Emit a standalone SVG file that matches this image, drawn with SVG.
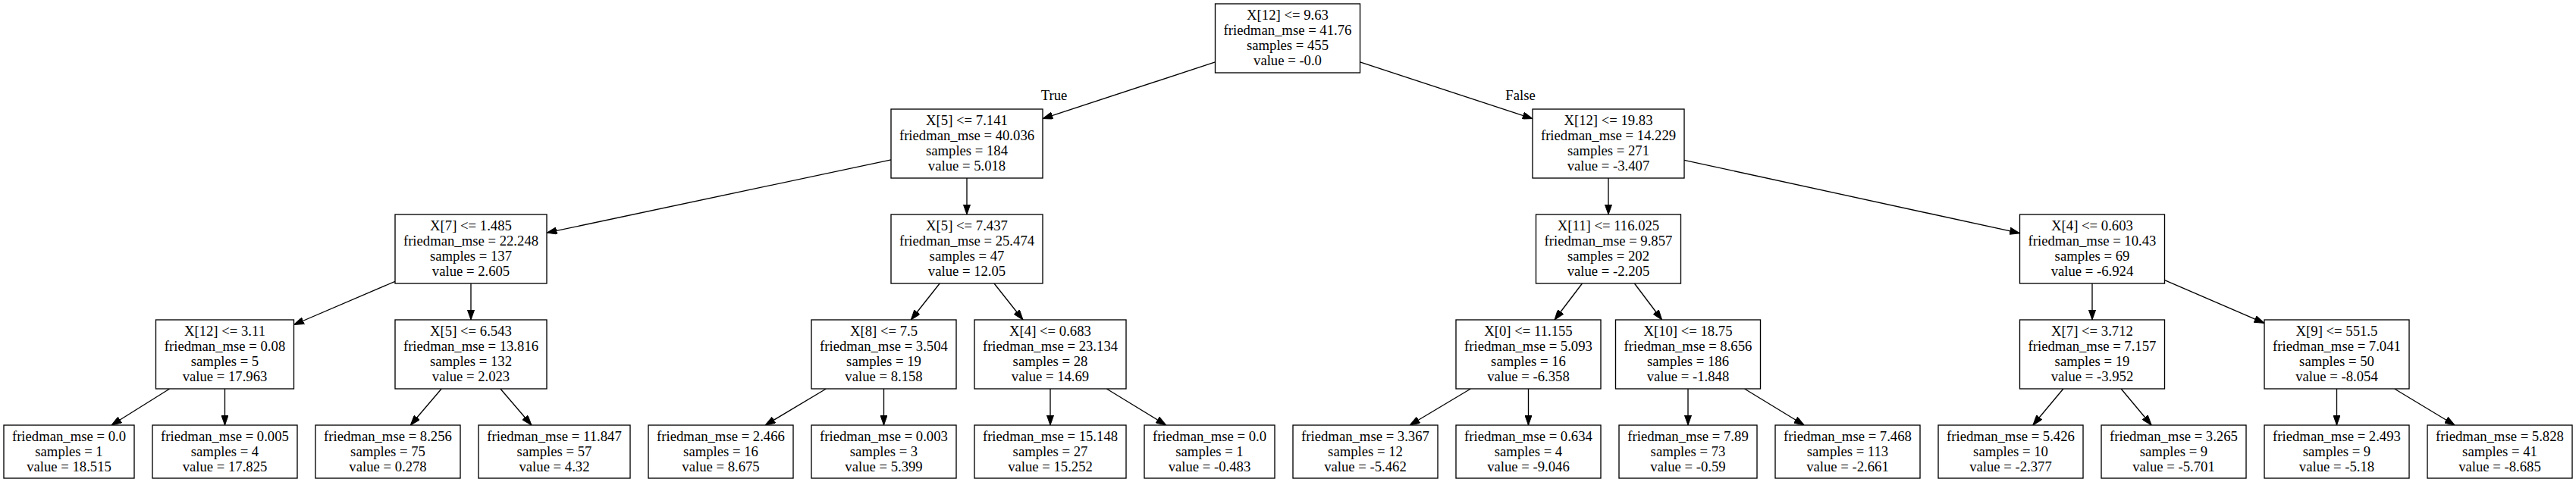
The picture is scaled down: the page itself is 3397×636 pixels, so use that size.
<svg xmlns="http://www.w3.org/2000/svg" width="3397" height="636" viewBox="0 0 3397 636">
<style>
.box{fill:#ffffff;stroke:#000000;stroke-width:1.34}
.t{font-family:"Liberation Serif","Times New Roman",serif;font-size:18.7px;fill:#000000;text-anchor:middle}
.e{stroke:#000000;stroke-width:1.34;fill:none;marker-end:url(#arr)}
</style>
<defs>
<marker id="arr" markerUnits="userSpaceOnUse" viewBox="0 0 13.4 9.4" refX="13.4" refY="4.7" markerWidth="13.4" markerHeight="9.4" orient="auto">
<path d="M0,0 L13.4,4.7 L0,9.4 z" fill="#000000" stroke="#000000" stroke-width="1"/>
</marker>
</defs>
<rect x="0" y="0" width="3397" height="636" fill="#ffffff"/>
<g id="connectors">
<line class="e" x1="1602.5" y1="81.9" x2="1375" y2="156.6"/>
<line class="e" x1="1793.5" y1="81.9" x2="2021" y2="156.6"/>
<line class="e" x1="1175" y1="210.8" x2="721" y2="307.2"/>
<line class="e" x1="1275" y1="235" x2="1275" y2="283"/>
<line class="e" x1="2121" y1="235" x2="2121" y2="283"/>
<line class="e" x1="2221" y1="211.3" x2="2663.5" y2="307.7"/>
<line class="e" x1="521" y1="371.3" x2="387.5" y2="428.5"/>
<line class="e" x1="621" y1="374" x2="621" y2="422"/>
<line class="e" x1="1239.2" y1="374" x2="1201.3" y2="422"/>
<line class="e" x1="1311" y1="374" x2="1349" y2="422"/>
<line class="e" x1="2086.5" y1="374" x2="2050" y2="422"/>
<line class="e" x1="2155.4" y1="374" x2="2191.6" y2="422"/>
<line class="e" x1="2759" y1="374" x2="2759" y2="422"/>
<line class="e" x1="2854.5" y1="369.7" x2="2986" y2="426.3"/>
<line class="e" x1="223.7" y1="513" x2="147" y2="561"/>
<line class="e" x1="296.5" y1="513" x2="296.5" y2="561"/>
<line class="e" x1="582.2" y1="513" x2="541.3" y2="561"/>
<line class="e" x1="659.9" y1="513" x2="701" y2="561"/>
<line class="e" x1="1089.4" y1="513" x2="1009.1" y2="561"/>
<line class="e" x1="1165.5" y1="513" x2="1165.5" y2="561"/>
<line class="e" x1="1385" y1="513" x2="1385" y2="561"/>
<line class="e" x1="1459.3" y1="513" x2="1537.8" y2="561"/>
<line class="e" x1="1939.4" y1="513" x2="1859.1" y2="561"/>
<line class="e" x1="2015.5" y1="513" x2="2015.5" y2="561"/>
<line class="e" x1="2226" y1="513" x2="2226" y2="561"/>
<line class="e" x1="2300.5" y1="513" x2="2379.2" y2="561"/>
<line class="e" x1="2720.9" y1="513" x2="2680.8" y2="561"/>
<line class="e" x1="2797.1" y1="513" x2="2837.2" y2="561"/>
<line class="e" x1="3081.5" y1="513" x2="3081.5" y2="561"/>
<line class="e" x1="3157.6" y1="513" x2="3237.1" y2="561"/>
<text class="t" x="1390" y="132">True</text>
<text class="t" x="2005" y="132">False</text>
</g>
<g id="n0"><rect class="box" x="1602.5" y="5" width="191" height="91"/><text class="t"><tspan x="1698" y="26">X[12] &lt;= 9.63</tspan><tspan x="1698" y="46">friedman_mse = 41.76</tspan><tspan x="1698" y="66">samples = 455</tspan><tspan x="1698" y="86">value = -0.0</tspan></text></g>
<g id="n1"><rect class="box" x="1175" y="144" width="200" height="91"/><text class="t"><tspan x="1275" y="165">X[5] &lt;= 7.141</tspan><tspan x="1275" y="185">friedman_mse = 40.036</tspan><tspan x="1275" y="205">samples = 184</tspan><tspan x="1275" y="225">value = 5.018</tspan></text></g>
<g id="n2"><rect class="box" x="2021" y="144" width="200" height="91"/><text class="t"><tspan x="2121" y="165">X[12] &lt;= 19.83</tspan><tspan x="2121" y="185">friedman_mse = 14.229</tspan><tspan x="2121" y="205">samples = 271</tspan><tspan x="2121" y="225">value = -3.407</tspan></text></g>
<g id="n3"><rect class="box" x="521" y="283" width="200" height="91"/><text class="t"><tspan x="621" y="304">X[7] &lt;= 1.485</tspan><tspan x="621" y="324">friedman_mse = 22.248</tspan><tspan x="621" y="344">samples = 137</tspan><tspan x="621" y="364">value = 2.605</tspan></text></g>
<g id="n4"><rect class="box" x="1175" y="283" width="200" height="91"/><text class="t"><tspan x="1275" y="304">X[5] &lt;= 7.437</tspan><tspan x="1275" y="324">friedman_mse = 25.474</tspan><tspan x="1275" y="344">samples = 47</tspan><tspan x="1275" y="364">value = 12.05</tspan></text></g>
<g id="n5"><rect class="box" x="2025.5" y="283" width="191" height="91"/><text class="t"><tspan x="2121" y="304">X[11] &lt;= 116.025</tspan><tspan x="2121" y="324">friedman_mse = 9.857</tspan><tspan x="2121" y="344">samples = 202</tspan><tspan x="2121" y="364">value = -2.205</tspan></text></g>
<g id="n6"><rect class="box" x="2663.5" y="283" width="191" height="91"/><text class="t"><tspan x="2759" y="304">X[4] &lt;= 0.603</tspan><tspan x="2759" y="324">friedman_mse = 10.43</tspan><tspan x="2759" y="344">samples = 69</tspan><tspan x="2759" y="364">value = -6.924</tspan></text></g>
<g id="n7"><rect class="box" x="205.5" y="422" width="182" height="91"/><text class="t"><tspan x="296.5" y="443">X[12] &lt;= 3.11</tspan><tspan x="296.5" y="463">friedman_mse = 0.08</tspan><tspan x="296.5" y="483">samples = 5</tspan><tspan x="296.5" y="503">value = 17.963</tspan></text></g>
<g id="n8"><rect class="box" x="521" y="422" width="200" height="91"/><text class="t"><tspan x="621" y="443">X[5] &lt;= 6.543</tspan><tspan x="621" y="463">friedman_mse = 13.816</tspan><tspan x="621" y="483">samples = 132</tspan><tspan x="621" y="503">value = 2.023</tspan></text></g>
<g id="n9"><rect class="box" x="1070" y="422" width="191" height="91"/><text class="t"><tspan x="1165.5" y="443">X[8] &lt;= 7.5</tspan><tspan x="1165.5" y="463">friedman_mse = 3.504</tspan><tspan x="1165.5" y="483">samples = 19</tspan><tspan x="1165.5" y="503">value = 8.158</tspan></text></g>
<g id="n10"><rect class="box" x="1285" y="422" width="200" height="91"/><text class="t"><tspan x="1385" y="443">X[4] &lt;= 0.683</tspan><tspan x="1385" y="463">friedman_mse = 23.134</tspan><tspan x="1385" y="483">samples = 28</tspan><tspan x="1385" y="503">value = 14.69</tspan></text></g>
<g id="n11"><rect class="box" x="1920" y="422" width="191" height="91"/><text class="t"><tspan x="2015.5" y="443">X[0] &lt;= 11.155</tspan><tspan x="2015.5" y="463">friedman_mse = 5.093</tspan><tspan x="2015.5" y="483">samples = 16</tspan><tspan x="2015.5" y="503">value = -6.358</tspan></text></g>
<g id="n12"><rect class="box" x="2130.5" y="422" width="191" height="91"/><text class="t"><tspan x="2226" y="443">X[10] &lt;= 18.75</tspan><tspan x="2226" y="463">friedman_mse = 8.656</tspan><tspan x="2226" y="483">samples = 186</tspan><tspan x="2226" y="503">value = -1.848</tspan></text></g>
<g id="n13"><rect class="box" x="2663.5" y="422" width="191" height="91"/><text class="t"><tspan x="2759" y="443">X[7] &lt;= 3.712</tspan><tspan x="2759" y="463">friedman_mse = 7.157</tspan><tspan x="2759" y="483">samples = 19</tspan><tspan x="2759" y="503">value = -3.952</tspan></text></g>
<g id="n14"><rect class="box" x="2986" y="422" width="191" height="91"/><text class="t"><tspan x="3081.5" y="443">X[9] &lt;= 551.5</tspan><tspan x="3081.5" y="463">friedman_mse = 7.041</tspan><tspan x="3081.5" y="483">samples = 50</tspan><tspan x="3081.5" y="503">value = -8.054</tspan></text></g>
<g id="l1"><rect class="box" x="5" y="561" width="172" height="70"/><text class="t"><tspan x="91" y="582">friedman_mse = 0.0</tspan><tspan x="91" y="602">samples = 1</tspan><tspan x="91" y="622">value = 18.515</tspan></text></g>
<g id="l2"><rect class="box" x="201" y="561" width="191" height="70"/><text class="t"><tspan x="296.5" y="582">friedman_mse = 0.005</tspan><tspan x="296.5" y="602">samples = 4</tspan><tspan x="296.5" y="622">value = 17.825</tspan></text></g>
<g id="l3"><rect class="box" x="416" y="561" width="191" height="70"/><text class="t"><tspan x="511.5" y="582">friedman_mse = 8.256</tspan><tspan x="511.5" y="602">samples = 75</tspan><tspan x="511.5" y="622">value = 0.278</tspan></text></g>
<g id="l4"><rect class="box" x="631" y="561" width="200" height="70"/><text class="t"><tspan x="731" y="582">friedman_mse = 11.847</tspan><tspan x="731" y="602">samples = 57</tspan><tspan x="731" y="622">value = 4.32</tspan></text></g>
<g id="l5"><rect class="box" x="855" y="561" width="191" height="70"/><text class="t"><tspan x="950.5" y="582">friedman_mse = 2.466</tspan><tspan x="950.5" y="602">samples = 16</tspan><tspan x="950.5" y="622">value = 8.675</tspan></text></g>
<g id="l6"><rect class="box" x="1070" y="561" width="191" height="70"/><text class="t"><tspan x="1165.5" y="582">friedman_mse = 0.003</tspan><tspan x="1165.5" y="602">samples = 3</tspan><tspan x="1165.5" y="622">value = 5.399</tspan></text></g>
<g id="l7"><rect class="box" x="1285" y="561" width="200" height="70"/><text class="t"><tspan x="1385" y="582">friedman_mse = 15.148</tspan><tspan x="1385" y="602">samples = 27</tspan><tspan x="1385" y="622">value = 15.252</tspan></text></g>
<g id="l8"><rect class="box" x="1509" y="561" width="172" height="70"/><text class="t"><tspan x="1595" y="582">friedman_mse = 0.0</tspan><tspan x="1595" y="602">samples = 1</tspan><tspan x="1595" y="622">value = -0.483</tspan></text></g>
<g id="l9"><rect class="box" x="1705" y="561" width="191" height="70"/><text class="t"><tspan x="1800.5" y="582">friedman_mse = 3.367</tspan><tspan x="1800.5" y="602">samples = 12</tspan><tspan x="1800.5" y="622">value = -5.462</tspan></text></g>
<g id="l10"><rect class="box" x="1920" y="561" width="191" height="70"/><text class="t"><tspan x="2015.5" y="582">friedman_mse = 0.634</tspan><tspan x="2015.5" y="602">samples = 4</tspan><tspan x="2015.5" y="622">value = -9.046</tspan></text></g>
<g id="l11"><rect class="box" x="2135" y="561" width="182" height="70"/><text class="t"><tspan x="2226" y="582">friedman_mse = 7.89</tspan><tspan x="2226" y="602">samples = 73</tspan><tspan x="2226" y="622">value = -0.59</tspan></text></g>
<g id="l12"><rect class="box" x="2341" y="561" width="191" height="70"/><text class="t"><tspan x="2436.5" y="582">friedman_mse = 7.468</tspan><tspan x="2436.5" y="602">samples = 113</tspan><tspan x="2436.5" y="622">value = -2.661</tspan></text></g>
<g id="l13"><rect class="box" x="2556" y="561" width="191" height="70"/><text class="t"><tspan x="2651.5" y="582">friedman_mse = 5.426</tspan><tspan x="2651.5" y="602">samples = 10</tspan><tspan x="2651.5" y="622">value = -2.377</tspan></text></g>
<g id="l14"><rect class="box" x="2771" y="561" width="191" height="70"/><text class="t"><tspan x="2866.5" y="582">friedman_mse = 3.265</tspan><tspan x="2866.5" y="602">samples = 9</tspan><tspan x="2866.5" y="622">value = -5.701</tspan></text></g>
<g id="l15"><rect class="box" x="2986" y="561" width="191" height="70"/><text class="t"><tspan x="3081.5" y="582">friedman_mse = 2.493</tspan><tspan x="3081.5" y="602">samples = 9</tspan><tspan x="3081.5" y="622">value = -5.18</tspan></text></g>
<g id="l16"><rect class="box" x="3201" y="561" width="191" height="70"/><text class="t"><tspan x="3296.5" y="582">friedman_mse = 5.828</tspan><tspan x="3296.5" y="602">samples = 41</tspan><tspan x="3296.5" y="622">value = -8.685</tspan></text></g>
</svg>
